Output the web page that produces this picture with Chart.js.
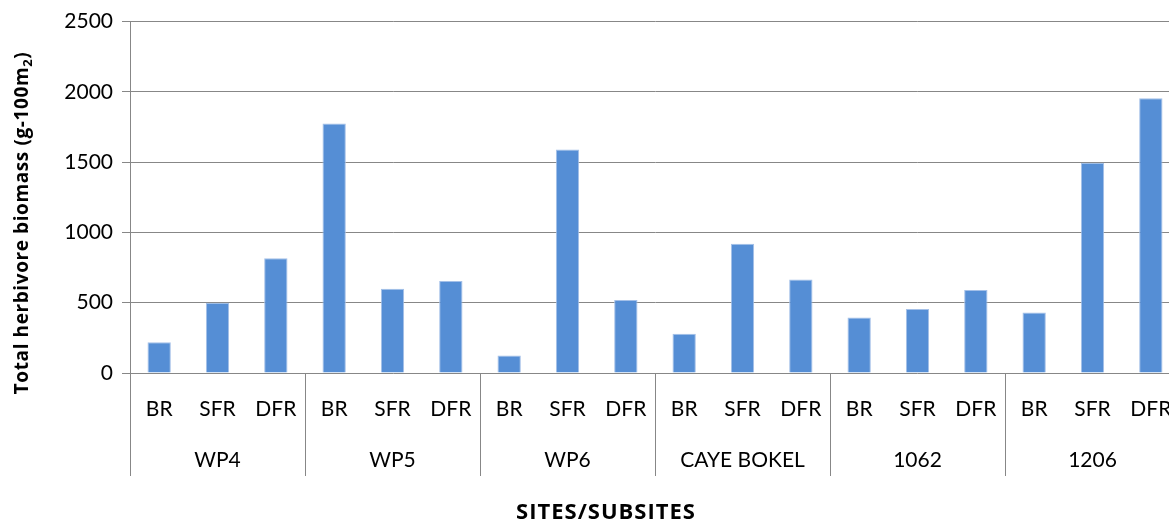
<!DOCTYPE html>
<html>
<head>
<meta charset="utf-8">
<script src="https://cdn.jsdelivr.net/npm/chart.js@4"></script>
<style>
  html, body { margin: 0; padding: 0; background: #fff; overflow: hidden; }
  #wrap { width: 1190px; height: 525px; }
</style>
</head>
<body>
<div id="wrap"><canvas id="Chart"></canvas></div>
<script>
// herbivore biomass per subsite, grouped by site
const sites = ["WP4", "WP5", "WP6", "CAYE BOKEL", "1062", "1206"];
const subsites = ["BR", "SFR", "DFR"];
const biomass = [
  218, 500, 817,     // WP4
  1775, 600, 655,    // WP5
  125, 1590, 520,    // WP6
  280, 920, 665,     // CAYE BOKEL
  395, 455, 590,     // 1062
  430, 1495, 1955    // 1206
];
const yTicks = [0, 500, 1000, 1500, 2000, 2500];

const labels = [];
sites.forEach((s) => subsites.forEach((sub) => labels.push(sub)));

const FONT = "Lato";
const TITLE_FONT = "'Open Sans'";
const lineColor = "#878787";

// two-row category axis + axis titles
const groupAxis = {
  id: "groupAxis",
  afterDraw(chart) {
    const ctx = chart.ctx;
    const area = chart.chartArea;
    const x = chart.scales.x;
    const step = (area.right - area.left) / labels.length;
    ctx.save();

    ctx.strokeStyle = lineColor;
    ctx.lineWidth = 1;
    for (let g = 0; g <= sites.length; g++) {
      const px = Math.round(area.left + g * subsites.length * step) + 0.5;
      ctx.beginPath();
      ctx.moveTo(px, area.bottom);
      ctx.lineTo(px, 476);
      ctx.stroke();
    }

    ctx.fillStyle = "#000";
    ctx.textAlign = "center";
    ctx.textBaseline = "alphabetic";
    ctx.font = "21px " + FONT;
    labels.forEach((l, i) => {
      ctx.fillText(l, x.getPixelForValue(i), 416);
    });
    sites.forEach((s, g) => {
      const cx = area.left + (g * subsites.length + subsites.length / 2) * step;
      ctx.fillText(s, cx, 467);
    });

    ctx.letterSpacing = "1px";
    ctx.font = "bold 22px " + TITLE_FONT;
    ctx.fillText("SITES/SUBSITES", 606, 519);

    // rotated y title with subscript
    const main = "Total herbivore biomass (g-100m";
    const sub = "2";
    const end = ")";
    ctx.translate(28, 223);
    ctx.rotate(-Math.PI / 2);
    ctx.textAlign = "left";
    ctx.letterSpacing = "0.6px";
    ctx.font = "bold 19px " + TITLE_FONT;
    const wMain = ctx.measureText(main).width;
    const wEnd = ctx.measureText(end).width;
    ctx.font = "bold 13px " + TITLE_FONT;
    const wSub = ctx.measureText(sub).width;
    let tx = -(wMain + wSub + wEnd) / 2;
    ctx.font = "bold 19px " + TITLE_FONT;
    ctx.fillText(main, tx, 0);
    tx += wMain;
    ctx.font = "bold 13px " + TITLE_FONT;
    ctx.fillText(sub, tx, 4);
    tx += wSub;
    ctx.font = "bold 19px " + TITLE_FONT;
    ctx.fillText(end, tx, 0);

    ctx.restore();
  }
};

const ctx = document.getElementById("Chart").getContext("2d");
const myChart = new Chart(ctx, {
  type: "bar",
  data: {
    labels: labels,
    datasets: [
      {
        label: "Total herbivore biomass",
        data: biomass,
        backgroundColor: "#558ED5",
        borderColor: "#A4C0E8",
        borderWidth: 1,
        borderSkipped: "bottom",
        categoryPercentage: 1,
        barPercentage: 0.4
      }
    ]
  },
  options: {
    responsive: true,
    maintainAspectRatio: false,
    animation: false,
    layout: { padding: { left: 0, right: 10, top: 21, bottom: 152 } },
    plugins: {
      legend: { display: false },
      tooltip: { enabled: false }
    },
    scales: {
      x: { display: false },
      y: {
        min: 0,
        max: 2500,
        afterBuildTicks: (scale) => {
          scale.ticks = yTicks.map((v) => ({ value: v }));
        },
        afterFit: (scale) => { scale.width = 130; },
        grid: { color: lineColor, lineWidth: 1, tickLength: 8 },
        border: { color: lineColor, width: 1 },
        ticks: {
          padding: 9,
          color: "#000",
          font: { family: FONT, size: 21 },
          callback: (v) => String(v)
        }
      }
    }
  },
  plugins: [groupAxis]
});
</script>
</body>
</html>
